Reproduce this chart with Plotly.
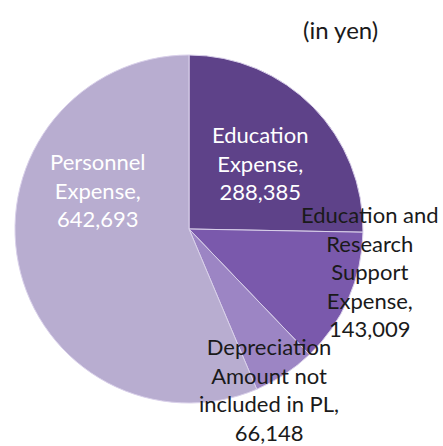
import plotly.graph_objects as go

labels = ["Education Expense", "Education and Research Support Expense",
          "Depreciation Amount not included in PL", "Personnel Expense"]
values = [288385, 143009, 66148, 642693]
colors = ["#5E4289", "#7A59AC", "#9C85C4", "#B8ADD0"]
label_lines = [
    ["Education", "Expense,"],
    ["Education and", "Research", "Support", "Expense,"],
    ["Depreciation", "Amount not", "included in PL,"],
    ["Personnel", "Expense,"],
]
label_colors = ["white", "#1A1A1A", "#1A1A1A", "white"]
W, H = 443, 446
label_pos = [(260, 163), (370, 271), (269, 389), (98, 190)]

fig = go.Figure(go.Pie(
    labels=labels, values=values, sort=False, direction="clockwise",
    rotation=0, textinfo="none", hoverinfo="label+value",
    marker=dict(colors=colors, line=dict(color="#D9D0EA", width=1)),
    domain=dict(x=[15 / W, 363 / W], y=[1 - 404 / H, 1 - 54 / H]),
    showlegend=False,
))

FONT = "Lato"
for lines, v, c, (px, py) in zip(label_lines, values, label_colors, label_pos):
    txt = "<br>".join(lines + [f"{v:,}"])
    fig.add_annotation(x=px / W, y=1 - py / H, xref="paper", yref="paper",
                       text=txt, showarrow=False, xanchor="center", yanchor="middle",
                       font=dict(family=FONT, size=22, color=c), align="center")

fig.add_annotation(x=340 / W, y=1 - 30 / H, xref="paper", yref="paper",
                   text="(in yen)", showarrow=False, xanchor="center", yanchor="middle",
                   font=dict(family=FONT, size=24, color="#1A1A1A"))

fig.update_layout(width=W, height=H, margin=dict(l=0, r=0, t=0, b=0),
                  paper_bgcolor="white", plot_bgcolor="white")
fig.write_html("out.html")
